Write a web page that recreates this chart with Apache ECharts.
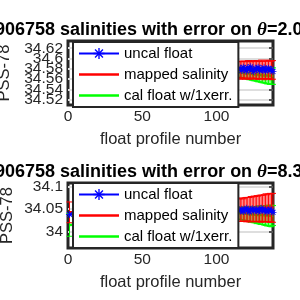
<!DOCTYPE html>
<html>
<head>
<meta charset="UTF-8" />
<script src="https://cdn.jsdelivr.net/npm/echarts@6/dist/echarts.min.js"></script>
<style>
  body { margin: 0; background: #fff; overflow: hidden; }
  #main { width: 300px; height: 300px; }
</style>
</head>
<body>
<div id="main"></div>
<script>
  // profile numbers (only the profiles visible outside the legend)
  const profiles = [1, 115, 116, 117, 118, 119, 120, 121, 122, 123, 124, 125, 126,
    127, 128, 129, 130, 131, 132, 133, 134, 135, 136, 137, 138];

  // theta = 2.0 level
  const uncalTop = [null, 34.579, 34.581, 34.577, 34.583, 34.580, 34.576, 34.582, 34.579, 34.584,
    34.578, 34.575, 34.581, 34.579, 34.583, 34.577, 34.580, 34.578, 34.582, 34.576, 34.579,
    34.581, 34.577, 34.579, 34.575];
  const mappedTop = [null, 34.578, 34.577, 34.579, 34.578, 34.577, 34.578, 34.579, 34.578, 34.577,
    34.578, 34.579, 34.578, 34.578, 34.577, 34.578, 34.579, 34.578, 34.577, 34.578, 34.579,
    34.578, 34.578, 34.577, 34.578];
  const mappedErrTop = [null, 0.016, 0.017, 0.016, 0.017, 0.017, 0.016, 0.017, 0.018, 0.017,
    0.016, 0.017, 0.017, 0.018, 0.017, 0.017, 0.018, 0.017, 0.018, 0.017, 0.018,
    0.018, 0.017, 0.018, 0.018];
  const calTop = [null, 34.573, 34.572, 34.573, 34.572, 34.571, 34.572, 34.571, 34.570, 34.571,
    34.570, 34.569, 34.570, 34.569, 34.568, 34.569, 34.568, 34.567, 34.568, 34.567, 34.566,
    34.567, 34.566, 34.566, 34.566];
  const calErrTop = [null, 0.009, 0.009, 0.010, 0.010, 0.010, 0.011, 0.011, 0.011, 0.012,
    0.012, 0.012, 0.013, 0.013, 0.013, 0.014, 0.014, 0.014, 0.015, 0.015, 0.015,
    0.016, 0.016, 0.016, 0.016];

  // theta = 8.3 level
  const uncalBot = [34.038, 34.048, 34.046, 34.050, 34.045, 34.049, 34.052, 34.047, 34.044, 34.049,
    34.051, 34.046, 34.048, 34.050, 34.045, 34.047, 34.052, 34.048, 34.046, 34.049, 34.044,
    34.047, 34.050, 34.046, 34.043];
  const mappedBot = [34.043, 34.048, 34.048, 34.049, 34.048, 34.049, 34.049, 34.050, 34.049, 34.050,
    34.050, 34.051, 34.050, 34.051, 34.051, 34.052, 34.051, 34.052, 34.052, 34.053, 34.052,
    34.053, 34.053, 34.053, 34.053];
  const mappedErrBot = [0.023, 0.025, 0.025, 0.026, 0.025, 0.026, 0.027, 0.026, 0.027, 0.028,
    0.027, 0.028, 0.028, 0.029, 0.028, 0.029, 0.030, 0.029, 0.030, 0.031, 0.030,
    0.031, 0.032, 0.031, 0.032];
  const calBot = [34.015, 34.041, 34.040, 34.041, 34.040, 34.040, 34.039, 34.040, 34.039, 34.038,
    34.039, 34.038, 34.038, 34.037, 34.038, 34.037, 34.036, 34.037, 34.036, 34.036, 34.035,
    34.036, 34.035, 34.035, 34.036];
  const calErrBot = [0.025, 0.013, 0.013, 0.014, 0.014, 0.015, 0.015, 0.016, 0.016, 0.017,
    0.017, 0.018, 0.018, 0.019, 0.019, 0.020, 0.020, 0.021, 0.021, 0.022, 0.022,
    0.023, 0.023, 0.024, 0.022];

  const yTicksTop = [34.52, 34.54, 34.56, 34.58, 34.6, 34.62];
  const yTicksBot = [34, 34.05, 34.1];
  const xTicks = [0, 50, 100];

  const FONT = '"Liberation Sans", Arial, sans-serif';
  const INK = '#262626';
  const STAR = 'path://M0,4.4L10,4.4L10,5.6L0,5.6Z M4.4,0L5.6,0L5.6,10L4.4,10Z ' +
    'M1.04,1.89L1.89,1.04L8.96,8.11L8.11,8.96Z M8.11,1.04L8.96,1.89L1.89,8.96L1.04,8.11Z';
  const LINE_ICON = 'path://M0,0L40,0L40,2.6L0,2.6Z';

  const pairs = (ys) => profiles.map((p, i) => [p, ys[i]]);
  const bars = (ys, es) => profiles.map((p, i) =>
    ys[i] == null ? [p, null, null] : [p, ys[i] - es[i], ys[i] + es[i]]);

  function errRender(params, api) {
    const x = api.value(0);
    const lo = api.value(1), hi = api.value(2);
    if (isNaN(lo) || isNaN(hi)) return null;
    const t = api.coord([x, hi]);
    const b = api.coord([x, lo]);
    const w = 3;
    const style = { stroke: api.visual('color'), lineWidth: 1 };
    return {
      type: 'group',
      children: [
        { type: 'line', shape: { x1: t[0], y1: t[1], x2: b[0], y2: b[1] }, style },
        { type: 'line', shape: { x1: t[0] - w, y1: t[1], x2: t[0] + w, y2: t[1] }, style },
        { type: 'line', shape: { x1: b[0] - w, y1: b[1], x2: b[0] + w, y2: b[1] }, style }
      ]
    };
  }

  // y axes per panel: 0 = main (grid lines, name, every other label),
  // 1 = the remaining labels (MATLAB lets them overlap), 2 = right-hand ticks
  function panel(idx, uncal, mapped, mappedErr, cal, calErr) {
    const y = idx * 3;
    return [
      {
        type: 'custom', xAxisIndex: idx, yAxisIndex: y, renderItem: errRender,
        data: bars(cal, calErr), encode: { x: 0, y: [1, 2] }, itemStyle: { color: '#00ff00' },
        clip: false, z: 2, silent: true
      },
      {
        name: 'cal float w/1xerr.', type: 'line', xAxisIndex: idx, yAxisIndex: y,
        data: pairs(cal), symbol: 'none', lineStyle: { color: '#00ff00', width: 2.5 },
        itemStyle: { color: '#00ff00' }, clip: false, z: 3
      },
      {
        type: 'custom', xAxisIndex: idx, yAxisIndex: y, renderItem: errRender,
        data: bars(mapped, mappedErr), encode: { x: 0, y: [1, 2] }, itemStyle: { color: '#ff0000' },
        clip: false, z: 4, silent: true
      },
      {
        name: 'mapped salinity', type: 'line', xAxisIndex: idx, yAxisIndex: y,
        data: pairs(mapped), symbol: 'none', lineStyle: { color: '#ff0000', width: 2.5 },
        itemStyle: { color: '#ff0000' }, clip: false, z: 5
      },
      {
        name: 'uncal float', type: 'line', xAxisIndex: idx, yAxisIndex: y,
        data: pairs(uncal), symbol: STAR, symbolSize: 7, connectNulls: true,
        lineStyle: { color: '#0000ff', width: 2.5 }, itemStyle: { color: '#0000ff' },
        clip: false, z: 6
      }
    ];
  }

  function xAxis(idx) {
    return {
      type: 'value', gridIndex: idx, min: 0, max: 138,
      name: 'float profile number', nameLocation: 'middle', nameGap: 26,
      nameTextStyle: { fontFamily: FONT, fontSize: 16.5, color: INK },
      axisLine: { show: false }, splitLine: { show: false },
      axisTick: { show: false, customValues: xTicks },
      axisLabel: { fontFamily: FONT, fontSize: 15.5, color: INK, margin: 4,
        customValues: xTicks, hideOverlap: false }
    };
  }

  function yAxes(idx, min, max, ticks) {
    const even = ticks.filter((t, i) => i % 2 === 0);
    const odd = ticks.filter((t, i) => i % 2 === 1);
    const label = (vals) => ({ fontFamily: FONT, fontSize: 15.5, color: INK, margin: 5,
      customValues: vals, hideOverlap: false });
    return [
      {
        type: 'value', gridIndex: idx, min, max, position: 'left',
        name: 'PSS-78', nameLocation: 'middle', nameGap: 52,
        nameTextStyle: { fontFamily: FONT, fontSize: 16.5, color: INK },
        axisLine: { show: false },
        axisTick: { show: false, customValues: ticks },
        axisLabel: label(even),
        splitLine: { show: true, lineStyle: { color: '#dedede', width: 2 } }
      },
      {
        type: 'value', gridIndex: idx, min, max, position: 'left', offset: 0,
        axisLine: { show: false },
        axisTick: { show: false, customValues: odd },
        axisLabel: label(odd),
        splitLine: { show: false }
      },
      {
        type: 'value', gridIndex: idx, min, max, position: 'right',
        axisLine: { show: false },
        axisTick: { show: true, inside: true, length: 4, customValues: ticks,
          lineStyle: { color: INK, width: 1.5 } },
        axisLabel: { show: false }, splitLine: { show: false }
      }
    ];
  }

  function title(top, level) {
    return {
      text: '{b|6906758 salinities with error on }{i|θ}{b|=' + level + '°C}',
      left: -15, top, padding: 0,
      textStyle: {
        rich: {
          b: { fontFamily: FONT, fontSize: 18, fontWeight: 'bold', color: '#000' },
          i: { fontFamily: '"Liberation Serif", serif', fontSize: 19, fontStyle: 'italic', color: '#000' }
        }
      }
    };
  }

  function legend(top) {
    return {
      orient: 'vertical', left: 73, top, padding: [4, 6, 4, 5],
      itemWidth: 40, itemHeight: 14, itemGap: 6,
      backgroundColor: '#fff', borderColor: INK, borderWidth: 2, borderRadius: 0,
      data: [
        { name: 'uncal float' },
        { name: 'mapped salinity', icon: LINE_ICON },
        { name: 'cal float w/1xerr.', icon: LINE_ICON }
      ],
      textStyle: { fontFamily: FONT, fontSize: 15, color: '#000', lineHeight: 14 },
      selectedMode: false, z: 10
    };
  }

  const chart = echarts.init(document.getElementById('main'));
  chart.setOption({
    animation: false,
    title: [title(21, '2.0316'), title(163, '8.3098')],
    legend: [legend(42), legend(183)],
    grid: [
      { left: 68, right: 27, top: 41, height: 64, show: true, borderColor: INK, borderWidth: 3,
        containLabel: false, outerBoundsMode: 'none' },
      { left: 68, right: 27, top: 183, height: 65, show: true, borderColor: INK, borderWidth: 3,
        containLabel: false, outerBoundsMode: 'none' }
    ],
    xAxis: [xAxis(0), xAxis(1)],
    yAxis: [...yAxes(0, 34.51, 34.634, yTicksTop), ...yAxes(1, 33.964, 34.108, yTicksBot)],
    series: [
      ...panel(0, uncalTop, mappedTop, mappedErrTop, calTop, calErrTop),
      ...panel(1, uncalBot, mappedBot, mappedErrBot, calBot, calErrBot)
    ]
  });
</script>
</body>
</html>
